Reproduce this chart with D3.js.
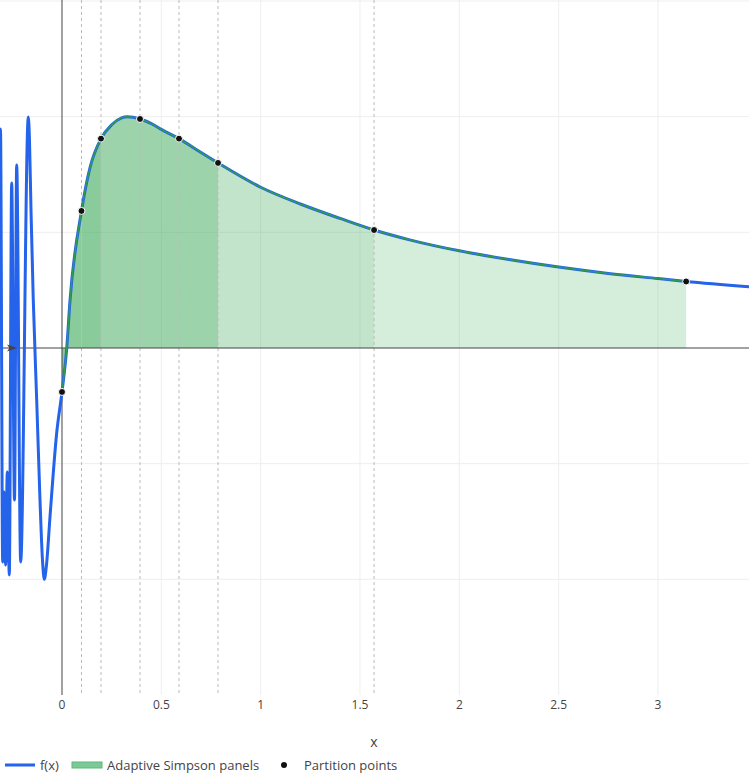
<!DOCTYPE html>
<html>
<head>
<meta charset="utf-8">
<script src="https://cdn.jsdelivr.net/npm/d3@7"></script>
<style>
	body { margin: 0; background: #fff; }
	svg text { font-family: "Open Sans", "Noto Sans", sans-serif; fill: #444; }
</style>
</head>
<body>
<section></section>
<script>
//curve samples
var fx = [-0.318, -0.3096, -0.2985, -0.2919, -0.2834, -0.2753, -0.2652, -0.2532, -0.2391, -0.2280,
	-0.2079, -0.1696, -0.1636, -0.1560, -0.1445, -0.1273, -0.1107, -0.0982, -0.0891, -0.0780,
	-0.0604, -0.0267, 0, 0.024, 0.0403, 0.0982, 0.141, 0.1963, 0.25, 0.30,
	0.33, 0.3927, 0.45, 0.50, 0.5890, 0.70, 0.7854, 1.0, 1.2, 1.4,
	1.5708, 1.75, 2.0, 2.25, 2.5, 2.75, 3.0, 3.1416, 3.458];
var fy = [0.0, 1.893, -1.850, -1.245, -1.876, -1.072, -1.962, 1.426, -1.314, 1.582,
	-1.850, 1.997, 1.798, 1.193, 0.415, -0.450, -1.314, -1.833, -2.0, -1.876,
	-1.461, -0.735, -0.380, 0.0, 0.41, 1.185, 1.56, 1.81, 1.93, 1.99,
	2.0, 1.98, 1.94, 1.89, 1.81, 1.69, 1.60, 1.39, 1.245, 1.12,
	1.02, 0.935, 0.84, 0.765, 0.70, 0.645, 0.60, 0.575, 0.53];

//final panels of the adaptive simpson run (start, end, recursion depth)
var panelStart = [0, 0.0982, 0.1963, 0.3927, 0.5890, 0.7854, 1.5708];
var panelEnd = [0.0982, 0.1963, 0.3927, 0.5890, 0.7854, 1.5708, 3.1416];
var panelDepth = [5, 5, 4, 4, 4, 2, 1];

//partition points
var partX = [0, 0.0982, 0.1963, 0.3927, 0.5890, 0.7854, 1.5708, 3.1416];
var partY = [-0.380, 1.185, 1.81, 1.98, 1.81, 1.60, 1.02, 0.575];

var xTicks = [0, 0.5, 1, 1.5, 2, 2.5, 3];
var xTickLabels = ["0", "0.5", "1", "1.5", "2", "2.5", "3"];
var yGrid = [-2, -1, 1, 2, 3];

var legendNames = ["f(x)", "Adaptive Simpson panels", "Partition points"];

var width = 749,
	height = 780,
	plotBottom = 695;

var svg = d3.select('section')
	.append('svg')
	.attr('width', width)
	.attr('height', height);

var x = d3.scaleLinear().domain([-0.312, 3.458]).range([0, width]);
var y = d3.scaleLinear().domain([-3, 3]).range([plotBottom, 1]);

var curve = fx.map(function(d, i) { return {x: d, y: fy[i]}; });

svg.append("defs").append("clipPath").attr("id", "plot")
	.append("rect").attr("x", 0).attr("y", 0).attr("width", width).attr("height", plotBottom);

//grid
var grid = svg.append("g");
grid.selectAll(".vg").data(xTicks.slice(1)).enter().append("line")
	.attr("x1", function(d) { return x(d); }).attr("x2", function(d) { return x(d); })
	.attr("y1", 0).attr("y2", plotBottom)
	.attr("stroke", "#eee").attr("stroke-width", 1);
grid.selectAll(".hg").data(yGrid).enter().append("line")
	.attr("x1", 0).attr("x2", width)
	.attr("y1", function(d) { return y(d); }).attr("y2", function(d) { return y(d); })
	.attr("stroke", "#eee").attr("stroke-width", 1);

//panel fills, each one the area under f clipped to its own interval
var area = d3.area().x(function(d) { return x(d.x); }).y0(y(0)).y1(function(d) { return y(d.y); })
	.curve(d3.curveMonotoneX);
var line = d3.line().x(function(d) { return x(d.x); }).y(function(d) { return y(d.y); })
	.curve(d3.curveMonotoneX);

var defs = svg.select("defs");
panelStart.forEach(function(a, i) {
	defs.append("clipPath").attr("id", "panel" + i)
		.append("rect")
		.attr("x", x(a)).attr("y", 0)
		.attr("width", x(panelEnd[i]) - x(a)).attr("height", plotBottom);
});

var panels = svg.append("g");
panelStart.forEach(function(a, i) {
	panels.append("path")
		.datum(curve)
		.attr("clip-path", "url(#panel" + i + ")")
		.attr("d", area)
		.attr("fill", "#41ab5d")
		.attr("fill-opacity", 0.12 + 0.1 * panelDepth[i]);
});

//dashed lines at inner partition points
svg.append("g").selectAll("line").data(partX.slice(1, -1)).enter().append("line")
	.attr("x1", function(d) { return x(d); }).attr("x2", function(d) { return x(d); })
	.attr("y1", 0).attr("y2", plotBottom)
	.attr("stroke", "#bbb").attr("stroke-width", 1).attr("stroke-dasharray", "3,3");

//zero lines
svg.append("line").attr("x1", 0).attr("x2", width).attr("y1", y(0)).attr("y2", y(0))
	.attr("stroke", "#444").attr("stroke-width", 1);
svg.append("line").attr("x1", x(0)).attr("x2", x(0)).attr("y1", 0).attr("y2", plotBottom)
	.attr("stroke", "#444").attr("stroke-width", 1);

//f(x)
svg.append("path")
	.datum(curve)
	.attr("clip-path", "url(#plot)")
	.attr("d", line)
	.attr("fill", "none")
	.attr("stroke", "#2563eb")
	.attr("stroke-width", 3)
	.attr("stroke-linejoin", "round");

//panel top edges
panelStart.forEach(function(a, i) {
	svg.append("path")
		.datum(curve)
		.attr("clip-path", "url(#panel" + i + ")")
		.attr("d", line)
		.attr("fill", "none")
		.attr("stroke", "#2e9a5a")
		.attr("stroke-width", 1.5);
});

//annotation arrow on the zero line
svg.append("path")
	.attr("d", "M7,344.5 L17," + y(0) + " L7,351.5 L9.5," + y(0) + " Z")
	.attr("fill", "#444");

//partition points
svg.append("g").selectAll("circle").data(partX).enter().append("circle")
	.attr("cx", function(d) { return x(d); })
	.attr("cy", function(d, i) { return y(partY[i]); })
	.attr("r", 3.5)
	.attr("fill", "#111")
	.attr("stroke", "#fff")
	.attr("stroke-width", 1);

//x tick labels and title
svg.append("g").selectAll("text").data(xTicks).enter().append("text")
	.attr("x", function(d) { return x(d); })
	.attr("y", 709)
	.attr("text-anchor", "middle")
	.attr("font-size", 12)
	.text(function(d, i) { return xTickLabels[i]; });

svg.append("text").attr("x", 374).attr("y", 747).attr("text-anchor", "middle")
	.attr("font-size", 14).text("x");

//legend
var lg = svg.append("g").attr("transform", "translate(0,765)");
lg.append("line").attr("x1", 5).attr("x2", 35).attr("y1", 0).attr("y2", 0)
	.attr("stroke", "#2563eb").attr("stroke-width", 3);
lg.append("text").attr("x", 40).attr("y", 4.5).attr("font-size", 13).text(legendNames[0]);
lg.append("rect").attr("x", 72).attr("y", -3).attr("width", 30).attr("height", 6)
	.attr("fill", "#7cc896").attr("stroke", "#5cb87e").attr("stroke-width", 1);
lg.append("text").attr("x", 107).attr("y", 4.5).attr("font-size", 13).text(legendNames[1]);
lg.append("circle").attr("cx", 284).attr("cy", 0).attr("r", 3).attr("fill", "#111");
lg.append("text").attr("x", 304).attr("y", 4.5).attr("font-size", 13).text(legendNames[2]);
</script>
</body>
</html>
